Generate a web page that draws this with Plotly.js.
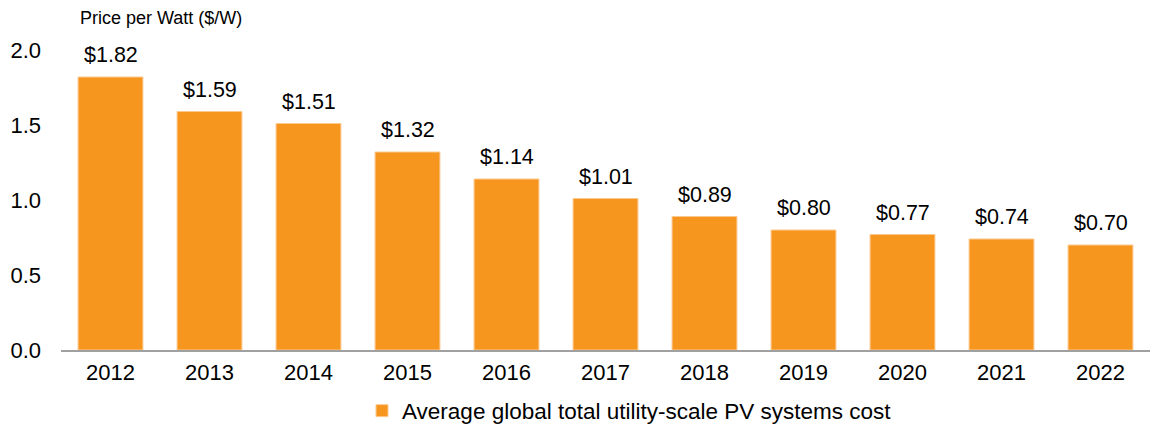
<!DOCTYPE html>
<html><head><meta charset="utf-8">
<script src="https://cdn.plot.ly/plotly-3.0.1.min.js"></script>
<style>html,body{margin:0;padding:0;background:#fff}#chart{width:1155px;height:426px}</style>
</head><body><div id="chart"></div>
<script>
const years = ['2012','2013','2014','2015','2016','2017','2018','2019','2020','2021','2022'];
const prices = [1.82,1.59,1.51,1.32,1.14,1.01,0.89,0.80,0.77,0.74,0.70];
const seriesName = 'Average global total utility-scale PV systems cost';
const yTicks = [0,0.5,1.0,1.5,2.0];
const yTickText = ['0.0','0.5','1.0','1.5','2.0'];

const font = 'Liberation Sans, Arial, sans-serif';
const trace = {
  type:'bar', x: years, y: prices, name: seriesName,
  marker:{color:'#F7961F', line:{color:'#FBC98E', width:1}},
  hoverinfo:'skip'
};
const annotations = years.map((yr,i)=>({
  x: i, y: prices[i], xref:'x', yref:'y', text:'$'+prices[i].toFixed(2),
  showarrow:false, yanchor:'bottom', yshift:8,
  font:{family:font, size:21.5, color:'#000'}
}));
const layout = {
  width:1155, height:426,
  margin:{l:61, r:5, t:50, b:76},
  paper_bgcolor:'#fff', plot_bgcolor:'#fff',
  font:{family:font, color:'#000'},
  title:{text:'Price per Watt ($/W)', x:80/1155, xref:'container', xanchor:'left', y:1-18/426, yref:'container', yanchor:'middle', font:{family:font, size:18, color:'#000'}},
  bargap:0.345,
  xaxis:{type:'category', range:[-0.5, years.length-0.5], autorange:false, showline:true, linecolor:'#A0A0A0', linewidth:2, ticks:'', tickfont:{size:22, family:font}, ticklabelstandoff:2, fixedrange:true},
  yaxis:{range:[0,2.0], autorange:false, tickvals:yTicks, ticktext:yTickText, showgrid:false, zeroline:false, showline:false, ticks:'', ticklabelstandoff:19, tickfont:{size:22, family:font}, fixedrange:true},
  showlegend:true,
  legend:{orientation:'h', x:362/1155, xanchor:'left', xref:'container', y:1-411/426, yanchor:'middle', yref:'container', font:{size:22.5, family:font}, itemwidth:30},
  annotations: annotations
};
Plotly.newPlot('chart',[trace],layout,{displayModeBar:false, staticPlot:true});
</script></body></html>
